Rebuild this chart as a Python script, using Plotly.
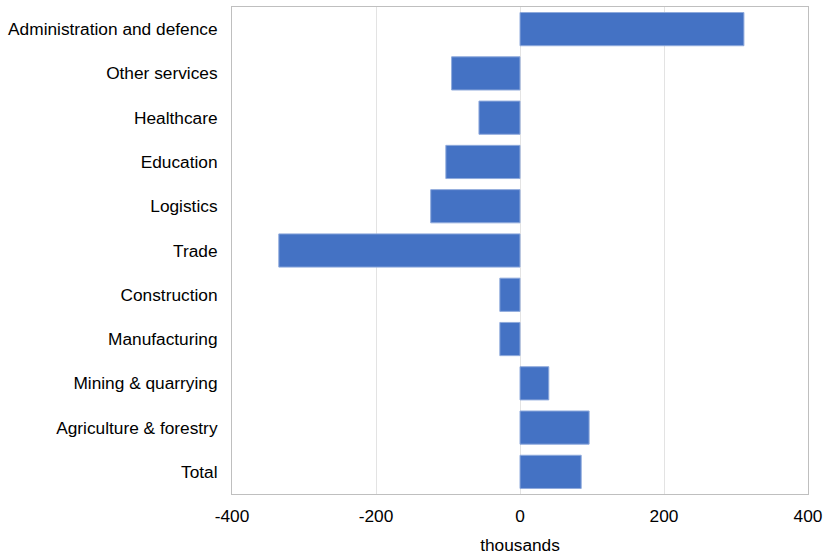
import plotly.graph_objects as go

# Employment change by sector, thousands (listed top to bottom)
sectors = [
    "Administration and defence",
    "Other services",
    "Healthcare",
    "Education",
    "Logistics",
    "Trade",
    "Construction",
    "Manufacturing",
    "Mining & quarrying",
    "Agriculture & forestry",
    "Total",
]
change = [311, -95, -57, -103, -124, -335, -28, -28, 40, 96, 85]

x_ticks = [-400, -200, 0, 200, 400]

fig = go.Figure(
    go.Bar(
        x=change,
        y=sectors,
        orientation="h",
        marker=dict(color="#4472C4", line=dict(color="#8FAADC", width=1)),
    )
)

fig.update_layout(
    width=823,
    height=555,
    autosize=False,
    margin=dict(l=232, r=15, t=7, b=61),
    paper_bgcolor="white",
    plot_bgcolor="white",
    bargap=0.25,
    showlegend=False,
    font=dict(family="Liberation Sans, Arial, sans-serif", size=17.3, color="#000000"),
)

fig.update_xaxes(
    range=[-400, 400],
    tickvals=x_ticks,
    ticktext=[str(v) for v in x_ticks],
    automargin=False,
    showgrid=True,
    gridcolor="#E3E3E3",
    gridwidth=1,
    zeroline=True,
    zerolinecolor="#E3E3E3",
    zerolinewidth=1,
    showline=True,
    linecolor="#BFBFBF",
    linewidth=1,
    mirror=True,
    ticks="",
    ticklabelstandoff=6,
    title=dict(text="thousands", standoff=22, font=dict(size=17.3)),
)

fig.update_yaxes(
    autorange="reversed",
    automargin=False,
    showgrid=False,
    showline=True,
    linecolor="#BFBFBF",
    linewidth=1,
    mirror=True,
    ticks="",
    ticklabelstandoff=10,
)

fig.write_html("out.html")
